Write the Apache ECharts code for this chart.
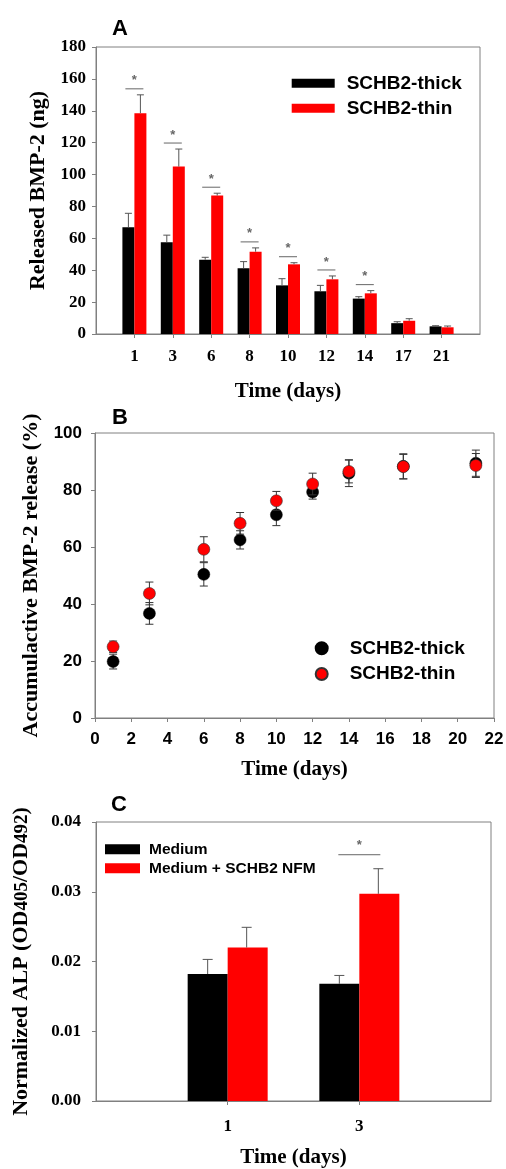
<!DOCTYPE html>
<html><head><meta charset="utf-8">
<script src="https://cdn.jsdelivr.net/npm/echarts@6/dist/echarts.min.js"></script>
<style>html,body{margin:0;padding:0;background:#fff}#c{width:506px;height:1169px}</style>
</head><body><div id="c"></div>
<script>
// ---------- Panel A data ----------
const daysA = ['1','3','6','8','10','12','14','17','21'];
const thickA = [67, 57.5, 46.6, 41.2, 30.5, 26.8, 22.2, 6.8, 4.8];
const thickErrA = [8.7, 4.5, 1.5, 4.2, 4.2, 3.7, 1.2, 0.9, 0.4];
const thinA = [138.5, 105, 86.8, 51.6, 43.7, 34.3, 25.5, 8.3, 4.2];
const thinErrA = [11.5, 11, 1.5, 2.4, 1.0, 2.1, 1.7, 1.3, 0.8];
const sigA = [1, 1, 1, 1, 1, 1, 1, 0, 0];
const yTicksA = [0, 20, 40, 60, 80, 100, 120, 140, 160, 180];

// ---------- Panel B data ----------
const daysB = [1, 3, 6, 8, 10, 12, 14, 17, 21];
const thickB = [19.8, 36.7, 50.4, 62.5, 71.3, 79.3, 85.9, 88.3, 89.4];
const thickErrB = [2.6, 3.8, 4.1, 3.2, 3.8, 2.5, 4.7, 4.4, 4.6];
const thinB = [25, 43.7, 59.2, 68.3, 76.2, 82.1, 86.5, 88.2, 88.6];
const thinErrB = [2, 4, 4.4, 3.8, 3.3, 3.8, 4, 4.3, 4.2];
const xTicksB = [0, 2, 4, 6, 8, 10, 12, 14, 16, 18, 20, 22];
const yTicksB = [0, 20, 40, 60, 80, 100];

// ---------- Panel C data ----------
const daysC = ['1', '3'];
const mediumC = [0.0182, 0.0168];
const mediumErrC = [0.0021, 0.0012];
const nfmC = [0.0220, 0.0297];
const nfmErrC = [0.0029, 0.0036];
const sigC = [0, 1];
const yTicksC = [0, 0.01, 0.02, 0.03, 0.04];

const SERIF = '"Liberation Serif", "Times New Roman", serif';
const SANS = '"Liberation Sans", Arial, sans-serif';
const GRAY = '#808080';
const BLACK = '#000000';
const RED = '#ff0000';

const chart = echarts.init(document.getElementById('c'), null, {renderer: 'canvas', width: 506, height: 1169});

function errRender(offset, capHalf, color, both) {
  return function (params, api) {
    const x0 = api.value(0), v = api.value(1), e = api.value(2);
    const pMid = api.coord([x0, v]);
    const pTop = api.coord([x0, v + e]);
    const pBot = both ? api.coord([x0, v - e]) : pMid;
    const x = pMid[0] + offset;
    const st = {stroke: color, lineWidth: 1};
    const ch = [
      {type: 'line', shape: {x1: x, y1: pBot[1], x2: x, y2: pTop[1]}, style: st},
      {type: 'line', shape: {x1: x - capHalf, y1: pTop[1], x2: x + capHalf, y2: pTop[1]}, style: st}
    ];
    if (both) ch.push({type: 'line', shape: {x1: x - capHalf, y1: pBot[1], x2: x + capHalf, y2: pBot[1]}, style: st});
    return {type: 'group', children: ch};
  };
}
function sigRender(lift, half, starGap) {
  return function (params, api) {
    const p = api.coord([api.value(0), api.value(1)]);
    const y = p[1] - lift;
    return {type: 'group', children: [
      {type: 'line', shape: {x1: p[0] - half, y1: y, x2: p[0] + half, y2: y}, style: {stroke: '#666', lineWidth: 1}},
      {type: 'text', x: p[0], y: y - starGap, style: {text: '*', fill: '#666', font: 'bold 13px ' + SANS, align: 'center', verticalAlign: 'middle'}}
    ]};
  };
}

function valAxis(ticks, gridIndex, font, margin, extra) {
  return Object.assign({
    type: 'value', gridIndex: gridIndex,
    min: ticks[0], max: ticks[ticks.length - 1], interval: ticks[1] - ticks[0],
    axisLine: {show: true, lineStyle: {color: GRAY, width: 1}},
    axisTick: {show: true, inside: false, length: 4, lineStyle: {color: GRAY}},
    splitLine: {show: false},
    axisLabel: {fontFamily: font, fontWeight: 'bold', fontSize: 17, color: '#000', margin: margin}
  }, extra || {});
}
function nameStyle(size) {
  return {fontFamily: SERIF, fontWeight: 'bold', fontSize: size, color: '#000'};
}

const catA = [''].concat(daysA, ['']);
const catC = [''].concat(daysC, ['']);
const tickInt = n => (i) => i > 0 && i < n - 1;

const sigDataA = [];
sigA.forEach((s, i) => { if (s) sigDataA.push([i + 1, Math.max(thickA[i] + thickErrA[i], thinA[i] + thinErrA[i])]); });
const sigDataC = [];
sigC.forEach((s, i) => { if (s) sigDataC.push([i + 1, Math.max(mediumC[i] + mediumErrC[i], nfmC[i] + nfmErrC[i])]); });

const option = {
  backgroundColor: '#fff',
  animation: false,
  grid: [
    {left: 96, top: 47, width: 384, height: 287, show: true, borderColor: GRAY, borderWidth: 1, outerBoundsMode: 'none'},
    {left: 95, top: 433, width: 399, height: 285, show: true, borderColor: GRAY, borderWidth: 1, outerBoundsMode: 'none'},
    {left: 96, top: 822, width: 395, height: 279, show: true, borderColor: GRAY, borderWidth: 1, outerBoundsMode: 'none'}
  ],
  graphic: [
    {type: 'text', x: 120, y: 29, style: {text: 'A', font: 'bold 22px ' + SANS, fill: '#000', align: 'center', verticalAlign: 'middle'}},
    {type: 'text', x: 120, y: 418, style: {text: 'B', font: 'bold 22px ' + SANS, fill: '#000', align: 'center', verticalAlign: 'middle'}},
    {type: 'text', x: 119, y: 805, style: {text: 'C', font: 'bold 22px ' + SANS, fill: '#000', align: 'center', verticalAlign: 'middle'}}
  ],
  legend: [
    {left: 291.7, top: 73.8, orient: 'vertical', padding: 0, itemWidth: 43, itemHeight: 9, itemGap: 6, icon: 'rect', selectedMode: false,
     data: ['A|SCHB2-thick', 'A|SCHB2-thin'], formatter: n => n.split('|')[1],
     textStyle: {fontFamily: SANS, fontWeight: 'bold', fontSize: 19, lineHeight: 19, color: '#000', padding: [0, 0, 0, 7]}},
    {left: 314.7, top: 638.8, orient: 'vertical', padding: 0, itemWidth: 12, itemHeight: 12, itemGap: 6.7, icon: 'circle', selectedMode: false,
     data: ['B|SCHB2-thick', 'B|SCHB2-thin'], formatter: n => n.split('|')[1],
     textStyle: {fontFamily: SANS, fontWeight: 'bold', fontSize: 19, lineHeight: 19, color: '#000', padding: [0, 0, 0, 17]}},
    {left: 105, top: 841.3, orient: 'vertical', padding: 0, itemWidth: 35, itemHeight: 10, itemGap: 3, icon: 'rect', selectedMode: false,
     data: ['C|Medium', 'C|Medium + SCHB2 NFM'], formatter: n => n.split('|')[1],
     textStyle: {fontFamily: SANS, fontWeight: 'bold', fontSize: 15.5, lineHeight: 16, color: '#000', padding: [0, 0, 0, 4]}}
  ],
  xAxis: [
    {type: 'category', gridIndex: 0, data: catA, boundaryGap: false,
     axisLine: {show: true, lineStyle: {color: GRAY}},
     axisTick: {show: true, inside: false, length: 4, interval: tickInt(catA.length), lineStyle: {color: GRAY}},
     axisLabel: {fontFamily: SERIF, fontWeight: 'bold', fontSize: 17, color: '#000', margin: 14, interval: 0},
     splitLine: {show: false},
     name: 'Time (days)', nameLocation: 'middle', nameGap: 47, nameTextStyle: nameStyle(21)},
    valAxis(xTicksB, 1, SANS, 13, {name: 'Time (days)', nameLocation: 'middle', nameGap: 41, nameTextStyle: nameStyle(21)}),
    {type: 'category', gridIndex: 2, data: catC, boundaryGap: false,
     axisLine: {show: true, lineStyle: {color: GRAY}},
     axisTick: {show: true, inside: false, length: 4, interval: tickInt(catC.length), lineStyle: {color: GRAY}},
     axisLabel: {fontFamily: SERIF, fontWeight: 'bold', fontSize: 17, color: '#000', margin: 17, interval: 0},
     splitLine: {show: false},
     name: 'Time (days)', nameLocation: 'middle', nameGap: 46, nameTextStyle: nameStyle(21)}
  ],
  yAxis: [
    valAxis(yTicksA, 0, SERIF, 10, {name: 'Released BMP-2 (ng)', nameLocation: 'middle', nameRotate: 90, nameGap: 44, nameTextStyle: nameStyle(22)}),
    valAxis(yTicksB, 1, SANS, 13, {name: 'Accumulactive BMP-2 release (%)', nameLocation: 'middle', nameRotate: 90, nameGap: 53, nameTextStyle: nameStyle(22)}),
    valAxis(yTicksC, 2, SERIF, 15, {
      axisLabel: {fontFamily: SERIF, fontWeight: 'bold', fontSize: 17, color: '#000', margin: 15, formatter: v => v.toFixed(2)},
      name: 'Normalized ALP (OD{s|405}/OD{s|492})', nameLocation: 'middle', nameRotate: 90, nameGap: 64,
      nameTextStyle: Object.assign(nameStyle(22), {rich: {s: {fontFamily: SERIF, fontWeight: 'bold', fontSize: 19, color: '#000', verticalAlign: 'bottom'}}})})
  ],
  series: [
    // Panel A
    {name: 'A|SCHB2-thick', type: 'bar', xAxisIndex: 0, yAxisIndex: 0, barWidth: 12, barGap: '0%',
     itemStyle: {color: BLACK}, data: thickA.map((v, i) => [i + 1, v])},
    {name: 'A|SCHB2-thin', type: 'bar', xAxisIndex: 0, yAxisIndex: 0, barWidth: 12, barGap: '0%',
     itemStyle: {color: RED}, data: thinA.map((v, i) => [i + 1, v])},
    {type: 'custom', xAxisIndex: 0, yAxisIndex: 0, renderItem: errRender(-6, 3.5, '#555', false), encode: {x: 0, y: 1},
     data: thickA.map((v, i) => [i + 1, v, thickErrA[i]]), z: 3},
    {type: 'custom', xAxisIndex: 0, yAxisIndex: 0, renderItem: errRender(6, 3.5, '#555', false), encode: {x: 0, y: 1},
     data: thinA.map((v, i) => [i + 1, v, thinErrA[i]]), z: 3},
    {type: 'custom', xAxisIndex: 0, yAxisIndex: 0, renderItem: sigRender(6, 9, 8), encode: {x: 0, y: 1}, data: sigDataA, z: 3},
    // Panel B
    {type: 'custom', xAxisIndex: 1, yAxisIndex: 1, renderItem: errRender(0, 4, '#333', true), encode: {x: 0, y: 1},
     data: thickB.map((v, i) => [daysB[i], v, thickErrB[i]]), z: 2},
    {name: 'B|SCHB2-thick', type: 'scatter', xAxisIndex: 1, yAxisIndex: 1, symbol: 'circle', symbolSize: 12,
     itemStyle: {color: BLACK, borderColor: '#000', borderWidth: 0.5, opacity: 1}, data: thickB.map((v, i) => [daysB[i], v]), z: 3},
    {type: 'custom', xAxisIndex: 1, yAxisIndex: 1, renderItem: errRender(0, 4, '#333', true), encode: {x: 0, y: 1},
     data: thinB.map((v, i) => [daysB[i], v, thinErrB[i]]), z: 4},
    {name: 'B|SCHB2-thin', type: 'scatter', xAxisIndex: 1, yAxisIndex: 1, symbol: 'circle', symbolSize: 12,
     itemStyle: {color: RED, borderColor: '#333', borderWidth: 0.6, opacity: 1}, data: thinB.map((v, i) => [daysB[i], v]), z: 5},
    // Panel C
    {name: 'C|Medium', type: 'bar', xAxisIndex: 2, yAxisIndex: 2, barWidth: 40, barGap: '0%',
     itemStyle: {color: BLACK}, data: mediumC.map((v, i) => [i + 1, v])},
    {name: 'C|Medium + SCHB2 NFM', type: 'bar', xAxisIndex: 2, yAxisIndex: 2, barWidth: 40, barGap: '0%',
     itemStyle: {color: RED}, data: nfmC.map((v, i) => [i + 1, v])},
    {type: 'custom', xAxisIndex: 2, yAxisIndex: 2, renderItem: errRender(-20, 5, '#555', false), encode: {x: 0, y: 1},
     data: mediumC.map((v, i) => [i + 1, v, mediumErrC[i]]), z: 3},
    {type: 'custom', xAxisIndex: 2, yAxisIndex: 2, renderItem: errRender(19, 5, '#555', false), encode: {x: 0, y: 1},
     data: nfmC.map((v, i) => [i + 1, v, nfmErrC[i]]), z: 3},
    {type: 'custom', xAxisIndex: 2, yAxisIndex: 2, renderItem: sigRender(14, 21, 9), encode: {x: 0, y: 1}, data: sigDataC, z: 3}
  ]
};
chart.setOption(option);
</script>
</body></html>
